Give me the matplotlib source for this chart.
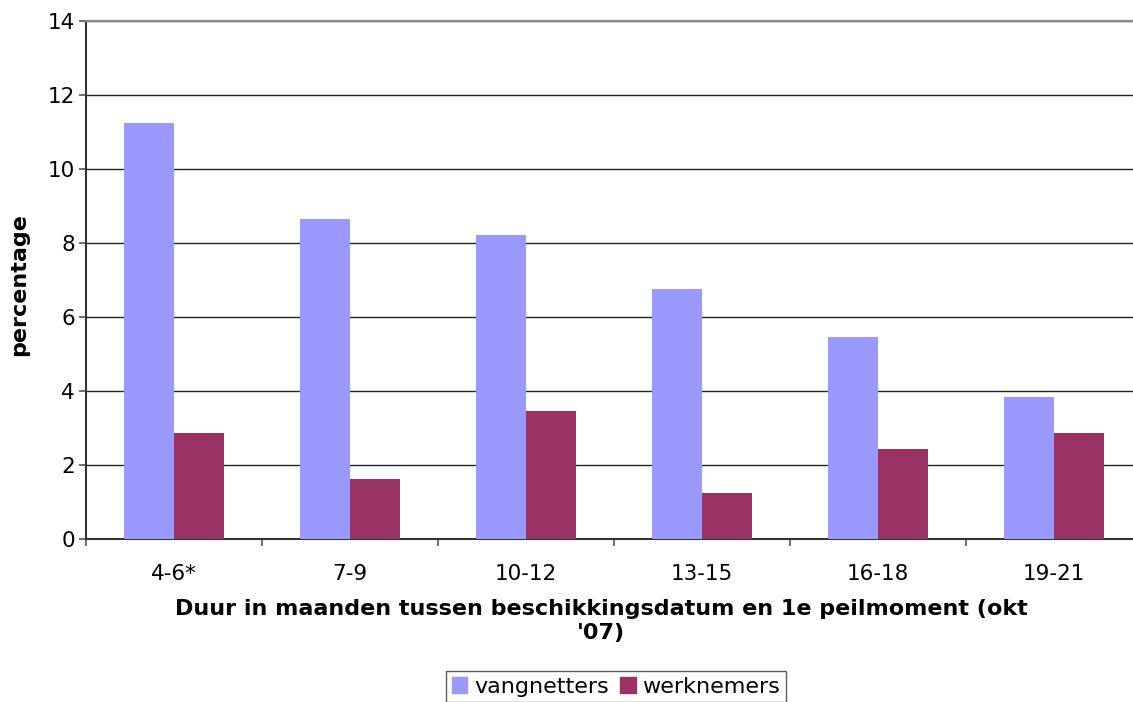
import numpy as np
from matplotlib import pyplot as plt
from matplotlib.patches import Patch

categories = ["4-6*", "7-9", "10-12", "13-15", "16-18", "19-21"]
vangnetters = [11.24, 8.65, 8.22, 6.76, 5.46, 3.84]
werknemers = [2.86, 1.62, 3.46, 1.24, 2.43, 2.86]

blue = "#9999FF"
red = "#993366"

fig = plt.figure(figsize=(11.33, 7.02), dpi=100)
# plot area runs a bit past the right edge of the picture, like the original
ax = fig.add_axes([86 / 1133, 163 / 702, 1056 / 1133, 518 / 702])

x = np.arange(len(categories))
w = 0.285
ax.bar(x - w / 2, vangnetters, w, color=blue, zorder=3)
ax.bar(x + w / 2, werknemers, w, color=red, zorder=3)

ax.set_xlim(-0.5, len(categories) - 0.5)
ax.set_ylim(0, 14)
ax.set_yticks(range(0, 15, 2))
ax.set_xticks(x)
ax.set_xticklabels(categories, fontsize=15.5)
ax.set_xticks(np.arange(-0.5, len(categories), 1), minor=True)
ax.tick_params(axis="x", which="major", length=0, pad=18)
ax.tick_params(axis="x", which="minor", length=5, width=1.2, color="#555555", direction="out")
ax.tick_params(axis="y", labelsize=15.5, length=5, width=1.2, color="#555555", direction="out", pad=3)

ax.grid(axis="y", color="#222222", linewidth=1.0, zorder=0)
ax.spines["right"].set_visible(False)
ax.spines["top"].set_color("#888888")
ax.spines["top"].set_linewidth(1.5)
ax.spines["left"].set_color("#333333")
ax.spines["left"].set_linewidth(1.5)
ax.spines["bottom"].set_color("#333333")
ax.spines["bottom"].set_linewidth(1.5)

fig.text(601 / 1133, 1 - 621 / 702,
         "Duur in maanden tussen beschikkingsdatum en 1e peilmoment (okt\n'07)",
         ha="center", va="center", fontsize=16, fontweight="bold", linespacing=1.25)
fig.text(19 / 1133, 1 - 285 / 702, "percentage", rotation=90,
         ha="center", va="center", fontsize=16, fontweight="bold")

handles = [Patch(color=blue, label="vangnetters"), Patch(color=red, label="werknemers")]
leg = fig.legend(handles=handles, loc="upper center", bbox_to_anchor=(616 / 1133, 1 - 671 / 702),
                 ncol=2, fontsize=16, frameon=True, fancybox=False, edgecolor="#333333",
                 handlelength=0.7, handleheight=0.7, handletextpad=0.3, columnspacing=0.5,
                 borderpad=0.25, borderaxespad=0)
leg.get_frame().set_linewidth(1.0)

fig.savefig("out.png", dpi=100)
